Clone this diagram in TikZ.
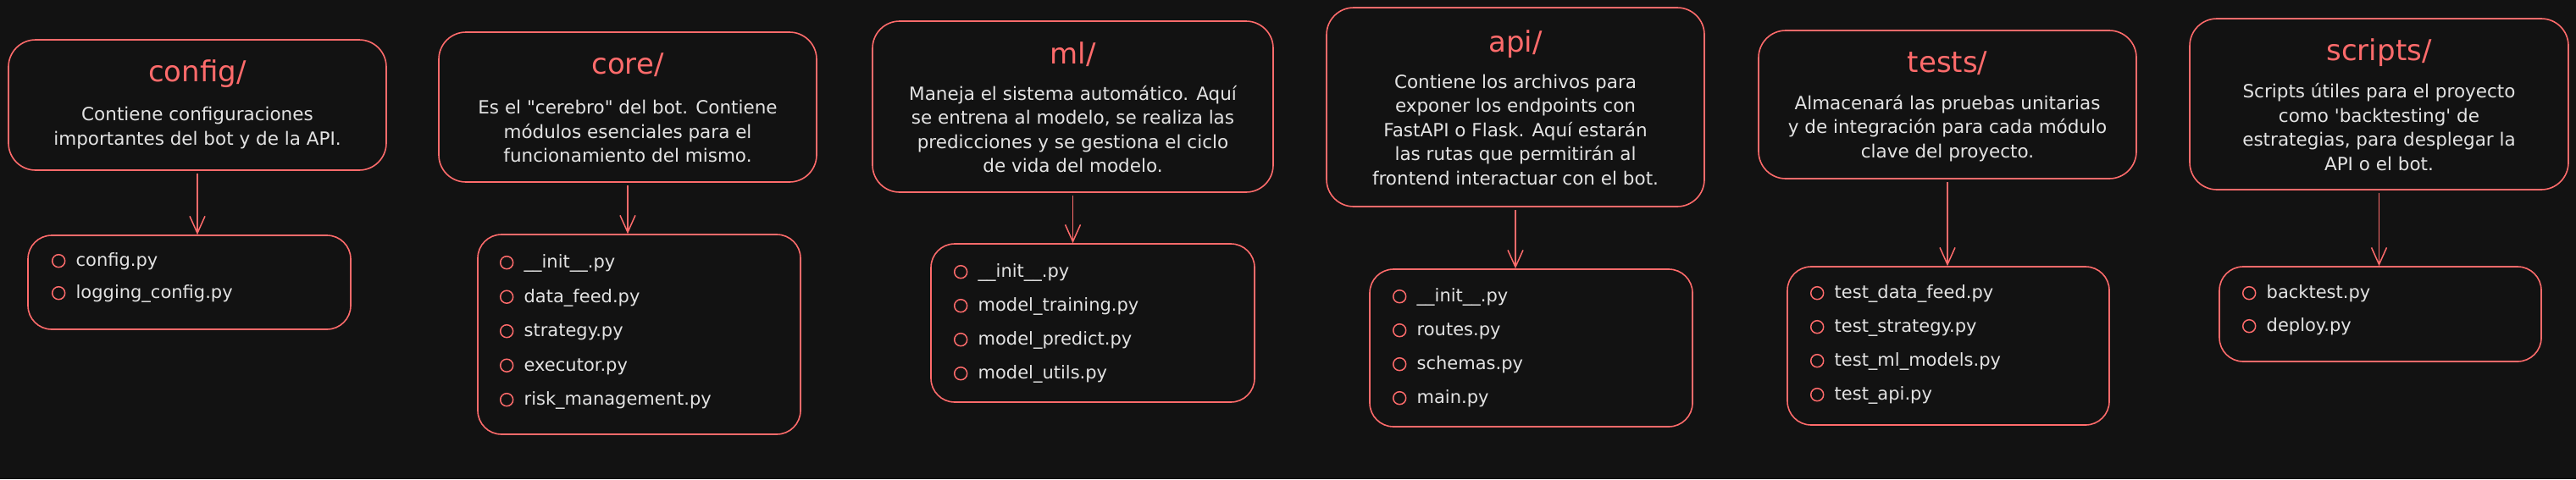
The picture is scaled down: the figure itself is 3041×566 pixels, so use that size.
\documentclass[tikz,border=0pt]{standalone}
\usepackage{fontspec}
\setmainfont{DejaVu Sans}
\usetikzlibrary{arrows.meta}

\definecolor{bg}{HTML}{121212}
\definecolor{salmon}{HTML}{FF6B6B}
\definecolor{chalk}{HTML}{E3E3E3}

\tikzset{
  folder/.style={draw=salmon, line width=1.6pt, rounded corners=32pt},
  filebox/.style={draw=salmon, line width=1.6pt, rounded corners=28pt},
  dirname/.style={text=salmon, font=\fontsize{34}{40}\selectfont},
  blurb/.style={text=chalk, align=center, font=\fontsize{21.5}{28.5}\selectfont},
  bullet/.style={circle, draw=salmon, line width=1.5pt, minimum size=15pt, inner sep=0pt},
  fname/.style={text=chalk, anchor=base west, inner sep=0pt, font=\fontsize{21}{24}\selectfont},
  link/.style={draw=salmon, line width=1.5pt, shorten <=3pt, -{Straight Barb[length=20pt,width=18pt]}}
}

\begin{document}
\begin{tikzpicture}[x=1pt,y=-1pt]
\fill[bg] (0,0) rectangle (3041,566);
\useasboundingbox (0,0) rectangle (3041,566);

% config/
\node[folder, minimum width=446pt, minimum height=154pt] (cfg) at (233,124) {};
\node[dirname] (cfgT) at (233,87) {config/};
\node[blurb] (cfgD) at (233,151) {Contiene configuraciones\\importantes del bot y de la API.};
\node[filebox, minimum width=381pt, minimum height=111pt] (cfgL) at (223.5,333.5) {};
\foreach \f [count=\i from 0] in {config.py, logging\_config.py} {
  \node[bullet] (cfgB\i) at ([shift={(37,31+38*\i)}]cfgL.north west) {};
  \node[fname] (cfgF\i) at ([xshift=12pt,yshift=-6.5pt]cfgB\i.east) {\f};
}
\draw[link] (cfg.south) -- (cfg.south |- cfgL.north);

% core/
\node[folder, minimum width=446pt, minimum height=177pt] (core) at (741,126.5) {};
\node[dirname] (coreT) at (741,77) {core/};
\node[blurb] (coreD) at (741,155) {Es el \textquotedbl cerebro\textquotedbl{} del bot. Contiene\\módulos esenciales para el\\funcionamiento del mismo.};
\node[filebox, minimum width=381pt, minimum height=236pt] (coreL) at (754.5,395) {};
\foreach \f [count=\i from 0] in {\_\_init\_\_.py, data\_feed.py, strategy.py, executor.py, risk\_management.py} {
  \node[bullet] (coreB\i) at ([shift={(35,34+40.5*\i)}]coreL.north west) {};
  \node[fname] (coreF\i) at ([xshift=12pt,yshift=-6.5pt]coreB\i.east) {\f};
}
\draw[link] (core.south) -- (core.south |- coreL.north);

% ml/
\node[folder, minimum width=473pt, minimum height=202pt] (ml) at (1266.5,126) {};
\node[dirname] (mlT) at (1266.5,64) {ml/};
\node[blurb] (mlD) at (1266.5,152.5) {Maneja el sistema automático. Aquí\\se entrena al modelo, se realiza las\\predicciones y se gestiona el ciclo\\de vida del modelo.};
\node[filebox, minimum width=382pt, minimum height=187pt] (mlL) at (1290,381.5) {};
\foreach \f [count=\i from 0] in {\_\_init\_\_.py, model\_training.py, model\_predict.py, model\_utils.py} {
  \node[bullet] (mlB\i) at ([shift={(36,34+40*\i)}]mlL.north west) {};
  \node[fname] (mlF\i) at ([xshift=12pt,yshift=-6.5pt]mlB\i.east) {\f};
}
\draw[link] (ml.south) -- (ml.south |- mlL.north);

% api/
\node[folder, minimum width=446pt, minimum height=235pt] (api) at (1789,126.5) {};
\node[dirname] (apiT) at (1789,52) {api/};
\node[blurb] (apiD) at (1789,153) {Contiene los archivos para\\exponer los endpoints con\\FastAPI o Flask. Aquí estarán\\las rutas que permitirán al\\frontend interactuar con el bot.};
\node[filebox, minimum width=381pt, minimum height=186pt] (apiL) at (1807.5,411) {};
\foreach \f [count=\i from 0] in {\_\_init\_\_.py, routes.py, schemas.py, main.py} {
  \node[bullet] (apiB\i) at ([shift={(36,33+40*\i)}]apiL.north west) {};
  \node[fname] (apiF\i) at ([xshift=12pt,yshift=-6.5pt]apiB\i.east) {\f};
}
\draw[link] (api.south) -- (api.south |- apiL.north);

% tests/
\node[folder, minimum width=446pt, minimum height=175pt] (tst) at (2299,123.5) {};
\node[dirname] (tstT) at (2299,75) {tests/};
\node[blurb] (tstD) at (2299,151.5) {Almacenará las pruebas unitarias\\y de integración para cada módulo\\clave del proyecto.};
\node[filebox, minimum width=380pt, minimum height=187pt] (tstL) at (2300,408.5) {};
\foreach \f [count=\i from 0] in {test\_data\_feed.py, test\_strategy.py, test\_ml\_models.py, test\_api.py} {
  \node[bullet] (tstB\i) at ([shift={(36,32+40*\i)}]tstL.north west) {};
  \node[fname] (tstF\i) at ([xshift=12pt,yshift=-6.5pt]tstB\i.east) {\f};
}
\draw[link] (tst.south) -- (tst.south |- tstL.north);

% scripts/
\node[folder, minimum width=447pt, minimum height=202pt] (scr) at (2808.5,123) {};
\node[dirname] (scrT) at (2808.5,62) {scripts/};
\node[blurb] (scrD) at (2808.5,150) {Scripts útiles para el proyecto\\como \textquotesingle backtesting\textquotesingle{} de\\estrategias, para desplegar la\\API o el bot.};
\node[filebox, minimum width=380pt, minimum height=112pt] (scrL) at (2810,371) {};
\foreach \f [count=\i from 0] in {backtest.py, deploy.py} {
  \node[bullet] (scrB\i) at ([shift={(36,32+39*\i)}]scrL.north west) {};
  \node[fname] (scrF\i) at ([xshift=12pt,yshift=-6.5pt]scrB\i.east) {\f};
}
\draw[link] (scr.south) -- (scr.south |- scrL.north);
\end{tikzpicture}
\end{document}
